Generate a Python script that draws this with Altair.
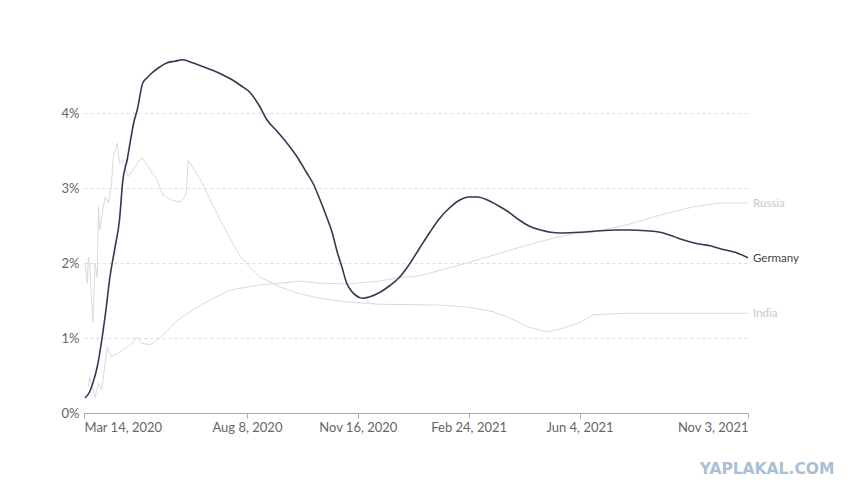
import altair as alt
import pandas as pd

START = "2020-03-14"

# Days since Mar 14, 2020 and case fatality rate (%)
germany_days = [1, 5, 8, 12, 16, 20, 23, 28, 32, 35, 39, 42, 45, 48, 53, 57, 61, 68, 75, 82,
                89, 98, 107, 116, 125, 134, 142, 150, 158, 165, 174, 183, 192, 201, 207, 213,
                219, 224, 228, 233, 237, 241, 245, 251, 258, 267, 276, 284, 292, 302, 312,
                320, 328, 339, 347, 355, 364, 373, 383, 393, 402, 412, 421, 430, 448, 466,
                480, 493, 507, 520, 529, 538, 547, 556, 565, 574, 588, 599]
germany_vals = [0.2, 0.28, 0.4, 0.62, 0.97, 1.4, 1.77, 2.21, 2.57, 3.1, 3.38, 3.64, 3.88,
                4.04, 4.4, 4.47, 4.53, 4.61, 4.67, 4.69, 4.71, 4.67, 4.62, 4.57, 4.51, 4.44,
                4.36, 4.27, 4.1, 3.91, 3.76, 3.6, 3.42, 3.2, 3.05, 2.84, 2.61, 2.4, 2.17,
                1.93, 1.73, 1.63, 1.57, 1.53, 1.55, 1.61, 1.7, 1.8, 1.95, 2.18, 2.41, 2.58,
                2.71, 2.84, 2.88, 2.88, 2.84, 2.77, 2.68, 2.57, 2.49, 2.44, 2.41, 2.4, 2.41,
                2.43, 2.44, 2.44, 2.43, 2.41, 2.37, 2.32, 2.28, 2.25, 2.23, 2.19, 2.14, 2.07]

india_days = [1, 3, 4, 5, 8, 10, 12, 13, 14, 17, 19, 22, 25, 26, 30, 32, 35, 40, 46, 52,
              58, 66, 71, 79, 87, 92, 94, 105, 114, 123, 141, 159, 177, 192, 213, 237, 267,
              319, 348, 369, 384, 400, 418, 432, 448, 459, 490, 599]
india_vals = [2.0, 1.73, 2.08, 2.0, 1.21, 2.0, 1.81, 2.75, 2.44, 2.71, 2.88, 2.8, 3.07,
              3.37, 3.6, 3.33, 3.37, 3.15, 3.28, 3.41, 3.28, 3.11, 2.91, 2.84, 2.81, 2.91,
              3.37, 3.11, 2.84, 2.57, 2.08, 1.81, 1.68, 1.6, 1.53, 1.48, 1.45, 1.44, 1.41,
              1.35, 1.27, 1.15, 1.08, 1.13, 1.21, 1.31, 1.33, 1.33]

russia_days = [4, 5, 10, 13, 16, 21, 25, 32, 42, 48, 52, 60, 69, 78, 87, 98, 114, 132, 159,
               177, 195, 213, 237, 267, 282, 303, 333, 364, 393, 423, 445, 459, 490, 520,
               550, 574, 599]
russia_vals = [0.35, 0.48, 0.21, 0.4, 0.31, 0.88, 0.75, 0.81, 0.91, 1.01, 0.93, 0.91, 1.01,
               1.15, 1.27, 1.37, 1.51, 1.64, 1.71, 1.73, 1.76, 1.73, 1.72, 1.76, 1.8, 1.83,
               1.95, 2.08, 2.21, 2.33, 2.4, 2.41, 2.51, 2.64, 2.75, 2.8, 2.8]

tick_dates = ["2020-03-14", "2020-08-08", "2020-11-16", "2021-02-24", "2021-06-04", "2021-11-03"]
y_ticks = [0, 1, 2, 3, 4]

GERMANY_COLOR = "#2f3b52"
OTHER_COLOR = "#dadada"

def frame(name, days, vals):
    d = pd.DataFrame({"days": days, "value": vals})
    d["date"] = (pd.Timestamp(START) + pd.to_timedelta(d["days"], unit="D")).dt.strftime("%Y-%m-%d")
    d["country"] = name
    return d

df = pd.concat([frame("India", india_days, india_vals),
                frame("Russia", russia_days, russia_vals),
                frame("Germany", germany_days, germany_vals)], ignore_index=True)
last = df.groupby("country", as_index=False).tail(1).copy()

def ts(s):
    y, m, d = map(int, s.split("-"))
    return alt.DateTime(year=y, month=m, date=d, utc=True)

xscale = alt.Scale(type="utc", domain=[ts(tick_dates[0]), ts(tick_dates[-1])])
yscale = alt.Scale(domain=[0, 4.72], nice=False)

x_enc = alt.X("date:T", scale=xscale, title=None,
              axis=alt.Axis(values=[ts(t) for t in tick_dates],
                            labelExpr="utcFormat(datum.value, '%b %-d, %Y')",
                            grid=False, domainColor="#aaaaaa", tickColor="#aaaaaa",
                            tickSize=5, labelFlush=True, labelPadding=3,
                            labelColor="#666666", labelFontSize=13, labelFont="Lato"))
y_enc = alt.Y("value:Q", scale=yscale, title=None,
              axis=alt.Axis(values=y_ticks, labelExpr="datum.value + '%'",
                            grid=True, gridDash=[3, 3], gridColor="#dddddd",
                            domain=False, ticks=False, labelPadding=5,
                            labelColor="#666666", labelFontSize=13, labelFont="Lato"))

others = alt.Chart(df).mark_line(strokeWidth=1.0, color=OTHER_COLOR).encode(
    x=x_enc, y=y_enc, detail="country:N",
).transform_filter("datum.country != 'Germany'")

germany_line = alt.Chart(df).mark_line(strokeWidth=1.6, color=GERMANY_COLOR,
                                       interpolate="monotone").encode(
    x="date:T", y="value:Q"
).transform_filter("datum.country == 'Germany'")

labels = alt.Chart(last).mark_text(align="left", baseline="middle", dx=5, dy=1,
                                   font="Lato", fontSize=11.5).encode(
    x="date:T", y="value:Q", text="country:N",
    color=alt.condition("datum.country == 'Germany'", alt.value("#444444"), alt.value("#c8c8c8")),
)

watermark = alt.Chart(pd.DataFrame({"t": ["YAPLAKAL.COM"]})).mark_text(
    align="center", baseline="middle", font="DejaVu Sans", fontWeight="bold",
    fontSize=15.5, color="#a9bfd3").encode(
    text="t:N", x=alt.value(683), y=alt.value(410))

chart = alt.layer(others, germany_line, labels, watermark).properties(
    width=664, height=354, autosize="none",
    padding={"left": 76, "top": 51, "right": 105, "bottom": 78},
).configure(font="Lato").configure_view(stroke=None, strokeWidth=0)

chart.save("out.html", embed_options={"renderer": "svg", "actions": False})
